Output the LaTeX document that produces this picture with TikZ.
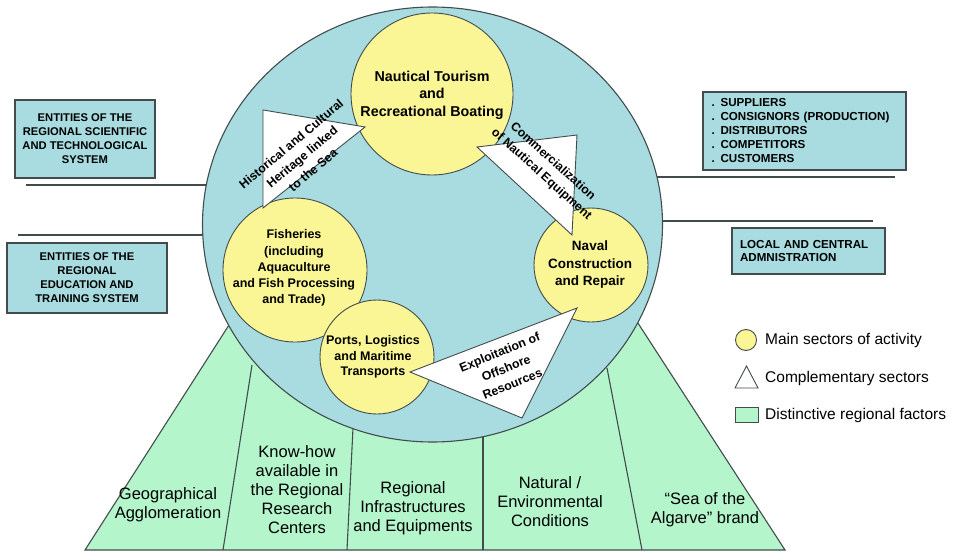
\documentclass[tikz,border=0pt]{standalone}
\usepackage{fontspec}
\setmainfont{Liberation Sans}
\usetikzlibrary{shapes.geometric}
\definecolor{seateal}{RGB}{168,220,224}
\definecolor{landgreen}{RGB}{180,245,204}
\definecolor{sunyellow}{RGB}{250,246,150}
\definecolor{edgegray}{RGB}{66,76,76}
\begin{document}
\begin{tikzpicture}[x=1pt,y=-1pt,
  edge/.style={draw=edgegray, line width=1.1pt},
  thinline/.style={draw=edgegray, line width=1.2pt},
  sector/.style={circle, draw=edgegray, line width=0.9pt, fill=sunyellow, inner sep=0pt},
  sectortext/.style={font=\bfseries, align=center, inner sep=0pt},
  comptri/.style={draw=edgegray, line width=0.9pt, fill=white, line join=miter},
  comptext/.style={font=\bfseries\fontsize{12.3}{17}\selectfont, align=center, inner sep=0pt},
  entbox/.style={rectangle, draw=edgegray, line width=1.1pt, fill=seateal, inner sep=0pt,
     font=\bfseries\fontsize{11.2}{14}\selectfont},
  factortext/.style={font=\fontsize{16.5}{19}\selectfont, align=center, inner sep=0pt},
  legendtext/.style={font=\fontsize{15.5}{18}\selectfont, anchor=west, inner sep=0pt}
]
\useasboundingbox (0,0) rectangle (957,553);

% connector lines (behind the big circle)
\coordinate (la1) at (26,185);  \coordinate (lb1) at (240,185);
\coordinate (la2) at (18,235);  \coordinate (lb2) at (240,235);
\coordinate (ra1) at (620,177); \coordinate (rb1) at (895,177);
\coordinate (ra2) at (620,221); \coordinate (rb2) at (873,221);
\draw[thinline] (la1) -- (lb1);
\draw[thinline] (la2) -- (lb2);
\draw[thinline] (ra1) -- (rb1);
\draw[thinline] (ra2) -- (rb2);

% green trapezoid of regional factors
\coordinate (tbl) at (85,550);
\coordinate (ttl) at (245,300);
\coordinate (ttr) at (623,300);
\coordinate (tbr) at (785,550);
\filldraw[edge, fill=landgreen] (tbl) -- (ttl) -- (ttr) -- (tbr) -- cycle;
\coordinate (d1b) at (223,550); \coordinate (d1t) at (252,365);
\coordinate (d2b) at (347,550); \coordinate (d2t) at (353,428);
\coordinate (d3b) at (483,550); \coordinate (d3t) at (483,436);
\coordinate (d4b) at (642,550); \coordinate (d4t) at (607,368);
\draw[edge] (d1b) -- (d1t);
\draw[edge] (d2b) -- (d2t);
\draw[edge] (d3b) -- (d3t);
\draw[edge] (d4b) -- (d4t);

% big circle
\node[ellipse, draw=edgegray, line width=1.1pt, fill=seateal, minimum width=460pt,
      minimum height=435pt, inner sep=0pt] (sea) at (432.5,224.5) {};

% main sectors
\node[sector, minimum size=162pt] (naut) at (432,94) {};
\node[sector, minimum size=144pt] (fish) at (295,270) {};
\node[sector, minimum size=114pt] (naval) at (591,265) {};
\node[sector, minimum size=114pt] (ports) at (377,357) {};

% complementary sectors
\coordinate (h1) at (263,110); \coordinate (h2) at (263,208); \coordinate (h3) at (365,127);
\filldraw[comptri] (h1) -- (h3) -- (h2) -- cycle;
\coordinate (c1) at (477,147); \coordinate (c2) at (577,135); \coordinate (c3) at (572,235);
\filldraw[comptri] (c1) -- (c2) -- (c3) -- cycle;
\coordinate (e1) at (410,372); \coordinate (e2) at (577,308); \coordinate (e3) at (522,418);
\filldraw[comptri] (e1) -- (e2) -- (e3) -- cycle;

% sector labels
\node[sectortext, font=\bfseries\fontsize{14.3}{17.5}\selectfont] (nauttext) at (432,95)
  {Nautical Tourism\\and\\Recreational Boating};
\node[sectortext, font=\bfseries\fontsize{12.5}{16.2}\selectfont] (fishtext) at (294,268)
  {Fisheries\\(including\\Aquaculture\\and Fish Processing\\and Trade)};
\node[sectortext, font=\bfseries\fontsize{13.5}{17.5}\selectfont] (navaltext) at (590,265)
  {Naval\\Construction\\and Repair};
\node[sectortext, font=\bfseries\fontsize{12.5}{15.5}\selectfont] (portstext) at (373,357)
  {Ports, Logistics\\and Maritime\\Transports};

\node[comptext, rotate=40] (histtext) at (302,157)
  {Historical and Cultural\\Heritage linked\\to the Sea};
\node[comptext, rotate=-42] (commtext) at (547,168)
  {Commercialization\\of Nautical Equipment};
\node[comptext, rotate=22] (expltext) at (506,368)
  {Exploitation of\\Offshore\\Resources};

% entity boxes
\node[entbox, minimum width=140pt, minimum height=78pt, align=center] (sci) at (85,139)
  {ENTITIES OF THE\\REGIONAL SCIENTIFIC\\AND TECHNOLOGICAL\\SYSTEM};
\node[entbox, minimum width=160pt, minimum height=70pt, align=center] (edu) at (87,278)
  {ENTITIES OF THE\\REGIONAL\\EDUCATION AND\\TRAINING SYSTEM};
\node[entbox, minimum width=203pt, minimum height=78pt, text width=186pt, align=left,
      font=\bfseries\fontsize{11.6}{14}\selectfont] (market) at (804.5,131)
  {. SUPPLIERS\\. CONSIGNORS (PRODUCTION)\\. DISTRIBUTORS\\. COMPETITORS\\. CUSTOMERS};
\node[entbox, minimum width=153pt, minimum height=46pt, text width=137pt, align=left,
      font=\bfseries\fontsize{11.6}{13.5}\selectfont] (admin) at (808.5,251)
  {LOCAL AND CENTRAL\\ADMNISTRATION};

% regional factors
\node[factortext] (geo) at (168,505) {Geographical\\Agglomeration};
\node[factortext] (know) at (297,490) {Know-how\\available in\\the Regional\\Research\\Centers};
\node[factortext] (infra) at (413,508) {Regional\\Infrastructures\\and Equipments};
\node[factortext] (natural) at (550,502) {Natural /\\Environmental\\Conditions};
\node[factortext] (brand) at (705,510) {“Sea of the\\Algarve” brand};

% legend
\node[sector, minimum size=21pt] (legc) at (746,340) {};
\node[legendtext] (legctext) at (765,340) {Main sectors of activity};
\coordinate (lt1) at (735,388); \coordinate (lt2) at (758,388); \coordinate (lt3) at (746.5,366);
\filldraw[comptri] (lt1) -- (lt2) -- (lt3) -- cycle;
\node[legendtext] (lttext) at (765,378) {Complementary sectors};
\node[rectangle, draw=edgegray, line width=0.9pt, fill=landgreen, minimum width=23pt,
      minimum height=15pt, inner sep=0pt] (legg) at (746.5,415) {};
\node[legendtext] (leggtext) at (765,415) {Distinctive regional factors};
\end{tikzpicture}
\end{document}
